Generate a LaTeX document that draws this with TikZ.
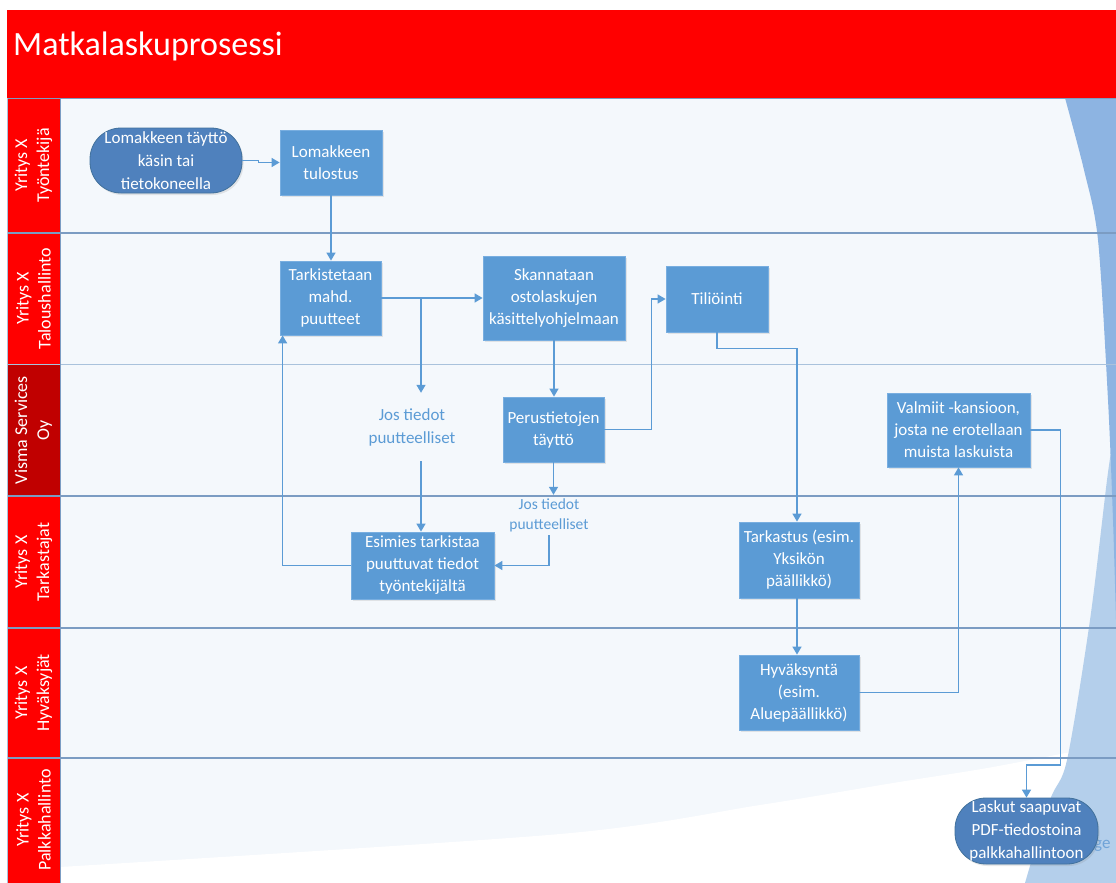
\documentclass[tikz,border=0pt]{standalone}
\usepackage{fontspec}
\setmainfont{Carlito}
\usetikzlibrary{arrows.meta,shadows}
\definecolor{hdrred}{HTML}{FF0000}
\definecolor{darkred}{HTML}{C00000}
\definecolor{lanefill}{HTML}{F4F8FC}
\definecolor{laneline}{HTML}{7B9CC3}
\definecolor{laneline2}{HTML}{A9C2DC}
\definecolor{nodeblue}{HTML}{5B9BD5}
\definecolor{nodeedge}{HTML}{78AEE0}
\definecolor{termblue}{HTML}{4F81BD}
\definecolor{termedge}{HTML}{41719C}
\definecolor{arrblue}{HTML}{5B9BD5}
\definecolor{wavedark}{HTML}{8DB4E2}
\definecolor{wavelight}{HTML}{B4CFEB}
\definecolor{getext}{HTML}{6FA3D8}
\tikzset{
  stepbox/.style={rectangle, fill=nodeblue, draw=nodeedge, line width=0.8pt, text=white,
    align=center, inner sep=2pt, font=\fontsize{17}{22}\selectfont,
    drop shadow={opacity=0.18, shadow xshift=1.5pt, shadow yshift=-2pt}},
  termbox/.style={rectangle, rounded corners=31pt, fill=termblue, draw=termedge, line width=0.8pt,
    text=white, align=center, inner sep=2pt, font=\fontsize{17}{23}\selectfont,
    drop shadow={opacity=0.18, shadow xshift=1.5pt, shadow yshift=-2pt}},
  notetext/.style={text=arrblue, align=center, inner sep=0pt},
  arr/.style={draw=arrblue, line width=1.4pt, -{Triangle[length=8pt,width=9pt]}},
  lanelabel/.style={rotate=90, text=white, align=center, font=\fontsize{18}{22}\selectfont},
}
\begin{document}
\begin{tikzpicture}[x=1pt,y=-1pt]
\useasboundingbox (0,0) rectangle (1116,883);
\fill[white] (0,0) rectangle (1116,883);
% header
\fill[hdrred] (7,10) rectangle (1116,98);
\node[anchor=base west, text=white, inner sep=0pt, font=\fontsize{34}{40}\selectfont] (title) at (13,56) {Matkalaskuprosessi};
% lane body
\fill[lanefill] (60,98) rectangle (1116,883);
% white wave at bottom
\fill[white] plot[smooth] coordinates {(60,867) (560,834) (760,805) (893,783) (993,767) (1116,743)} -- (1116,883) -- (60,883) -- cycle;
% right waves
\fill[wavelight] plot[smooth] coordinates {(1113,440) (1107,480) (1090,620) (1067,760) (1050,800) (1025,883)} -- (1116,883) -- (1116,440) -- cycle;
\fill[wavedark] plot[smooth] coordinates {(1065,98) (1084,170) (1098,240) (1108,400) (1113,520) (1116,620)} -- (1116,98) -- cycle;
% lane label column
\fill[hdrred] (7,98) rectangle (60,364);
\fill[darkred] (7,364) rectangle (60,496);
\fill[hdrred] (7,496) rectangle (60,883);
% lane lines
\draw[laneline, line width=1pt] (7,98) -- (1116,98);
\draw[laneline, line width=1.2pt] (7,233) -- (1116,233);
\draw[laneline2, line width=1pt] (7,364) -- (1116,364);
\draw[laneline, line width=1.2pt] (7,496) -- (1116,496);
\draw[laneline, line width=1.2pt] (7,628) -- (1116,628);
\draw[laneline, line width=1.2pt] (7,758) -- (1116,758);
\draw[laneline, line width=1pt] (60,98) -- (60,883);
\draw[laneline2, line width=0.8pt] (7,98) -- (7,883);
% lane labels
\node[lanelabel] (l1) at (33.5,165.5) {Yritys X\\Työntekijä};
\node[lanelabel] (l2) at (33.5,298.5) {Yritys X\\Taloushallinto};
\node[lanelabel] (l3) at (33.5,430) {Visma Services\\Oy};
\node[lanelabel] (l4) at (33.5,562) {Yritys X\\Tarkastajat};
\node[lanelabel] (l5) at (33.5,693) {Yritys X\\Hyväksyjät};
\node[lanelabel] (l6) at (33.5,820) {Yritys X\\Palkkahallinto};
% nodes
\node[termbox, minimum width=152pt, minimum height=65pt] (term) at (166,160.5) {Lomakkeen täyttö\\käsin tai\\tietokoneella};
\node[stepbox, minimum width=102pt, minimum height=65pt] (tul) at (331,162.5) {Lomakkeen\\tulostus};
\node[stepbox, minimum width=101pt, minimum height=74pt] (tark) at (330.5,298) {Tarkistetaan\\mahd.\\puutteet};
\node[stepbox, minimum width=142pt, minimum height=84pt] (skan) at (554,298) {Skannataan\\ostolaskujen\\käsittelyohjelmaan};
\node[stepbox, minimum width=102pt, minimum height=66pt] (til) at (717,299) {Tiliöinti};
\node[stepbox, minimum width=101pt, minimum height=65pt] (per) at (553.5,429.5) {Perustietojen\\täyttö};
\node[notetext, font=\fontsize{17}{23}\selectfont, minimum height=68pt] (jos1) at (412,427) {Jos tiedot\\puutteelliset};
\node[notetext, font=\fontsize{15.5}{20}\selectfont, minimum height=40pt] (jos2) at (549,515) {Jos tiedot\\puutteelliset};
\node[stepbox, minimum width=143pt, minimum height=67pt] (esim) at (422.5,565.5) {Esimies tarkistaa\\puuttuvat tiedot\\työntekijältä};
\node[stepbox, minimum width=120pt, minimum height=76pt] (tark2) at (799,560) {Tarkastus (esim.\\Yksikön\\päällikkö)};
\node[stepbox, minimum width=120pt, minimum height=75pt] (hyv) at (799,692.5) {Hyväksyntä\\(esim.\\Aluepäällikkö)};
\node[stepbox, minimum width=143pt, minimum height=74pt] (val) at (958.5,430) {Valmiit -kansioon,\\josta ne erotellaan\\muista laskuista};
\node[anchor=west, text=getext, inner sep=0pt, font=\fontsize{17}{22}\selectfont] (ge) at (1094,846) {ge};
\node[termbox, minimum width=143pt, minimum height=66pt] (las) at (1026.5,831) {Laskut saapuvat\\PDF-tiedostoina\\palkkahallintoon};
% connectors
\coordinate (b1) at (421,298);
\draw[arr] (term.east) -- ++(16,0) |- (tul.west);
\draw[arr] (tul.south) -- (tul.south |- tark.north);
\draw[arr] (tark.east) -- (skan.west);
\draw[arr] (b1) -- (b1 |- jos1.north);
\draw[arr] (b1 |- jos1.south) -- (b1 |- esim.north);
\draw[arr] (skan.south) -- (skan.south |- per.north);
\draw[arr] (per.east) -- ++(47,0) |- (til.west);
\draw[arr] (per.south) -- (per.south |- jos2.north);
\draw[arr] (jos2.south) |- (esim.east);
\draw[arr] (esim.west) -| ([xshift=3pt]tark.south west);
\draw[arr] (til.south) -- ++(0,16) -| ([xshift=-2pt]tark2.north);
\draw[arr] ([xshift=-2pt]tark2.south) -- ([xshift=-2pt]hyv.north);
\draw[arr] (hyv.east) -| (val.south);
\draw[arr] (val.east) -- ++(30,0) -- ++(0,335) -| (las.north);
\end{tikzpicture}
\end{document}
